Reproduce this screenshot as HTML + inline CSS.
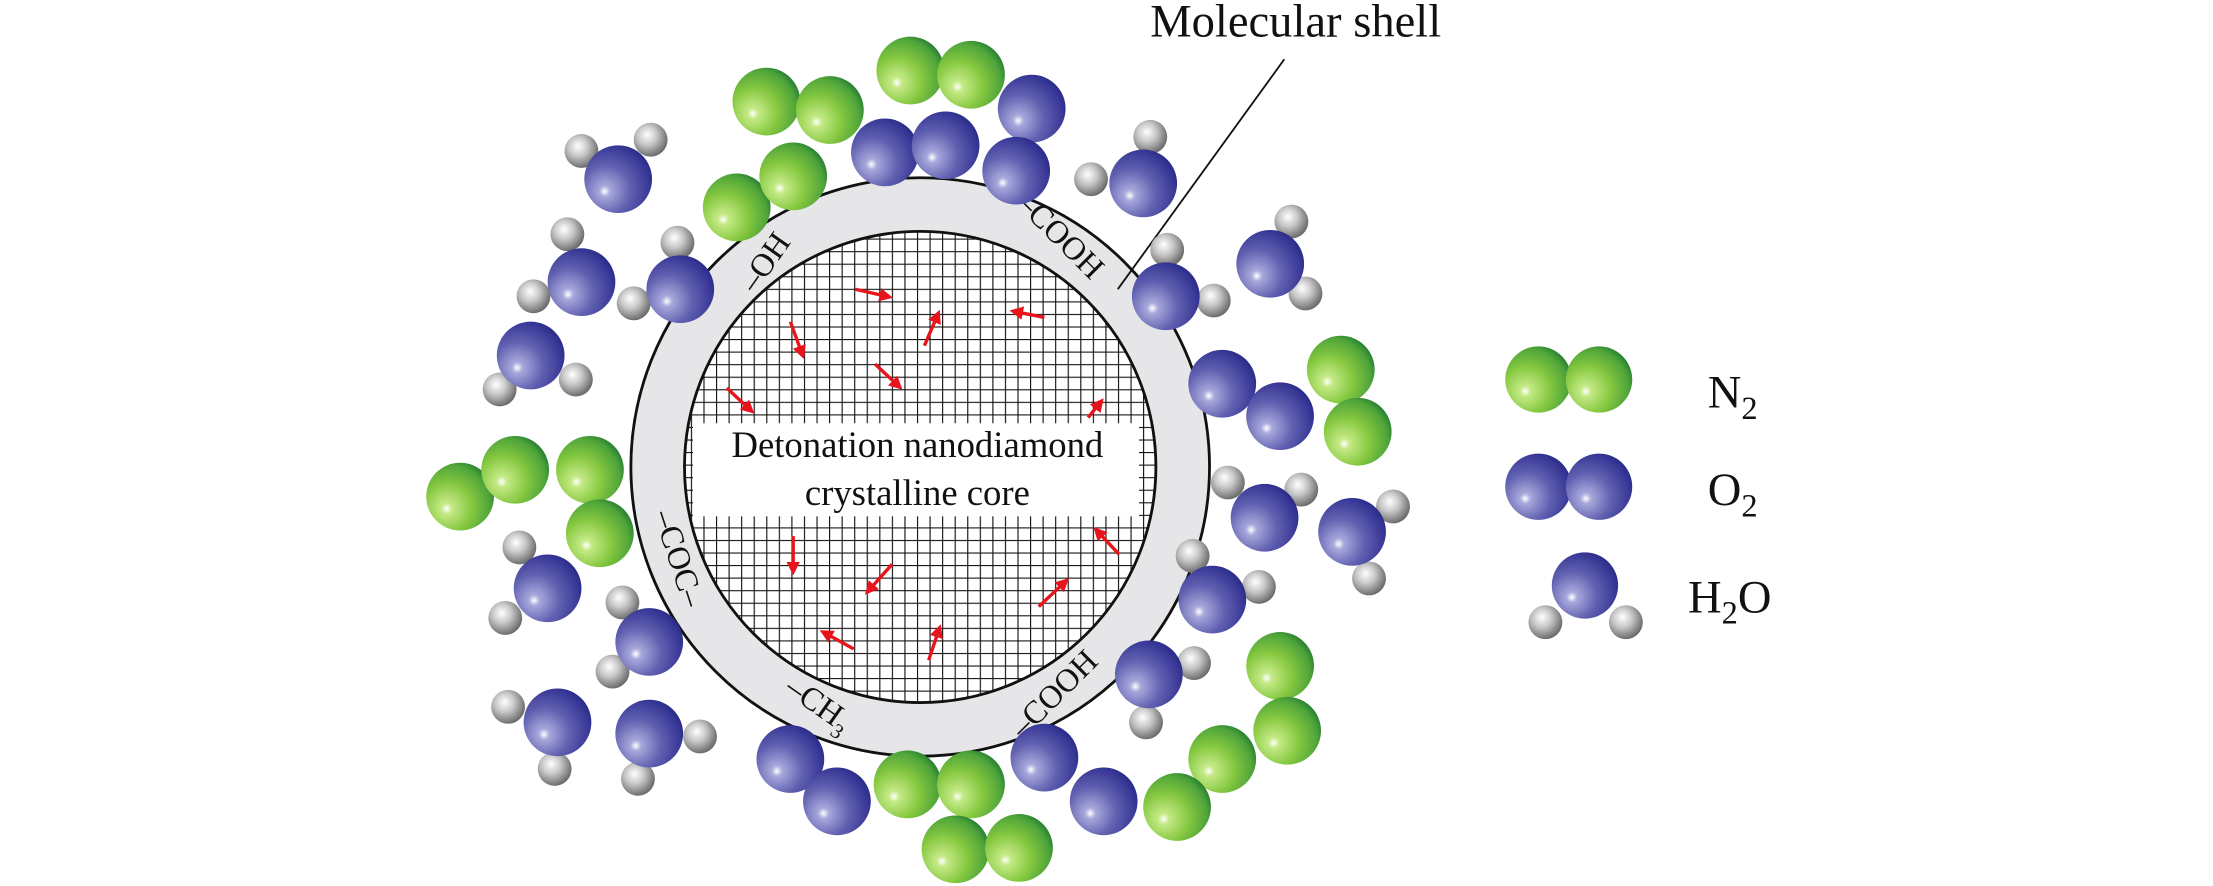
<!DOCTYPE html>
<html><head><meta charset="utf-8"><style>
html,body{margin:0;padding:0;background:#fff;overflow:hidden}
svg{display:block}
text{font-family:"Liberation Serif",serif;fill:#111}
</style></head><body>
<svg width="2213" height="886" viewBox="0 0 1568 628" preserveAspectRatio="none" xmlns="http://www.w3.org/2000/svg">
<defs>
<radialGradient id="g" cx="0.33" cy="0.64" r="0.8" fx="0.3" fy="0.68">
<stop offset="0" stop-color="#ffffff"/><stop offset="0.1" stop-color="#c4ea86"/><stop offset="0.45" stop-color="#86c840"/><stop offset="0.78" stop-color="#4ea43a"/><stop offset="1" stop-color="#0b642c"/></radialGradient>
<radialGradient id="b" cx="0.33" cy="0.64" r="0.8" fx="0.3" fy="0.68">
<stop offset="0" stop-color="#ffffff"/><stop offset="0.1" stop-color="#a8a8dc"/><stop offset="0.45" stop-color="#6262b2"/><stop offset="0.78" stop-color="#3a3a98"/><stop offset="1" stop-color="#1e1e7c"/></radialGradient>
<radialGradient id="h" cx="0.4" cy="0.4" r="0.7" fx="0.4" fy="0.35">
<stop offset="0" stop-color="#ffffff"/><stop offset="0.4" stop-color="#c8c8c8"/><stop offset="1" stop-color="#555"/></radialGradient>
<pattern id="grid" x="0" y="0" width="8.9" height="8.9" patternUnits="userSpaceOnUse">
<rect width="8.9" height="8.9" fill="#fff"/>
<path d="M0 0H8.9M0 0V8.9" stroke="#111" stroke-width="1.6" fill="none"/></pattern>
<clipPath id="cc"><circle cx="652" cy="331" r="167"/></clipPath>
<marker id="ah" markerWidth="4" markerHeight="4" refX="2" refY="2" orient="auto" markerUnits="strokeWidth"><path d="M0 0L4 2L0 4z" fill="#e8141c"/></marker>
</defs>

<circle cx="652" cy="331" r="205" fill="#e6e6e8" stroke="#111" stroke-width="2"/>
<circle cx="652" cy="331" r="167" fill="url(#grid)" stroke="#111" stroke-width="2"/>
<rect x="491" y="300" width="316" height="66" fill="#fff" clip-path="url(#cc)"/>
<text x="650" y="324" font-size="26" text-anchor="middle">Detonation nanodiamond</text>
<text x="650" y="358" font-size="26" text-anchor="middle">crystalline core</text>

<g stroke="#e8141c" stroke-width="2.4" marker-end="url(#ah)" fill="none">
<line x1="606" y1="205" x2="628" y2="210"/>
<line x1="655" y1="245" x2="664" y2="224"/>
<line x1="740" y1="225" x2="720" y2="221"/>
<line x1="560" y1="228" x2="568" y2="250"/>
<line x1="620" y1="258" x2="636" y2="273"/>
<line x1="515" y1="275" x2="531" y2="290"/>
<line x1="771" y1="296" x2="779" y2="286"/>
<line x1="562" y1="380" x2="562" y2="403"/>
<line x1="632" y1="400" x2="616" y2="418"/>
<line x1="793" y1="393" x2="778" y2="377"/>
<line x1="736" y1="430" x2="754" y2="413"/>
<line x1="605" y1="460" x2="585" y2="449"/>
<line x1="658" y1="468" x2="665" y2="447"/>
</g>

<text font-size="23" transform="translate(548,190) rotate(-55)" text-anchor="middle">–OH</text>
<text font-size="23" transform="translate(746,172) rotate(45)" text-anchor="middle">–COOH</text>
<text font-size="23" transform="translate(474,398) rotate(72)" text-anchor="middle">–COC–</text>
<text font-size="23" transform="translate(576,505) rotate(35)" text-anchor="middle">–CH<tspan font-size="15" dy="6">3</tspan></text>
<text font-size="23" transform="translate(752,497) rotate(-45)" text-anchor="middle">–COOH</text>

<line x1="910" y1="42" x2="792" y2="205" stroke="#111" stroke-width="1.3"/>
<text x="815" y="26" font-size="33">Molecular shell</text>

<g>
<circle cx="543" cy="72" r="24" fill="url(#g)"/><circle cx="588" cy="78" r="24" fill="url(#g)"/>
<circle cx="645" cy="50" r="24" fill="url(#g)"/><circle cx="688" cy="53" r="24" fill="url(#g)"/>
<circle cx="522" cy="147" r="24" fill="url(#g)"/><circle cx="562" cy="125" r="24" fill="url(#g)"/>
<circle cx="326" cy="352" r="24" fill="url(#g)"/><circle cx="365" cy="333" r="24" fill="url(#g)"/>
<circle cx="418" cy="333" r="24" fill="url(#g)"/><circle cx="425" cy="378" r="24" fill="url(#g)"/>
<circle cx="950" cy="262" r="24" fill="url(#g)"/><circle cx="962" cy="306" r="24" fill="url(#g)"/>
<circle cx="907" cy="472" r="24" fill="url(#g)"/><circle cx="912" cy="518" r="24" fill="url(#g)"/>
<circle cx="866" cy="538" r="24" fill="url(#g)"/><circle cx="834" cy="572" r="24" fill="url(#g)"/>
<circle cx="643" cy="556" r="24" fill="url(#g)"/><circle cx="688" cy="556" r="24" fill="url(#g)"/>
<circle cx="677" cy="602" r="24" fill="url(#g)"/><circle cx="722" cy="601" r="24" fill="url(#g)"/>
<circle cx="731" cy="77" r="24" fill="url(#b)"/>
<circle cx="627" cy="108" r="24" fill="url(#b)"/><circle cx="670" cy="103" r="24" fill="url(#b)"/><circle cx="720" cy="121" r="24" fill="url(#b)"/>
<circle cx="866" cy="272" r="24" fill="url(#b)"/><circle cx="907" cy="295" r="24" fill="url(#b)"/>
<circle cx="560" cy="538" r="24" fill="url(#b)"/><circle cx="593" cy="568" r="24" fill="url(#b)"/>
<circle cx="740" cy="537" r="24" fill="url(#b)"/><circle cx="782" cy="568" r="24" fill="url(#b)"/>
</g>
<g>
<circle cx="412" cy="107" r="12" fill="url(#h)"/><circle cx="461" cy="99" r="12" fill="url(#h)"/><circle cx="438" cy="127" r="24" fill="url(#b)"/>
<circle cx="815" cy="97" r="12" fill="url(#h)"/><circle cx="773" cy="127" r="12" fill="url(#h)"/><circle cx="810" cy="130" r="24" fill="url(#b)"/>
<circle cx="402" cy="166" r="12" fill="url(#h)"/><circle cx="378" cy="210" r="12" fill="url(#h)"/><circle cx="412" cy="200" r="24" fill="url(#b)"/>
<circle cx="480" cy="172" r="12" fill="url(#h)"/><circle cx="449" cy="215" r="12" fill="url(#h)"/><circle cx="482" cy="205" r="24" fill="url(#b)"/>
<circle cx="408" cy="269" r="12" fill="url(#h)"/><circle cx="354" cy="276" r="12" fill="url(#h)"/><circle cx="376" cy="252" r="24" fill="url(#b)"/>
<circle cx="915" cy="157" r="12" fill="url(#h)"/><circle cx="925" cy="208" r="12" fill="url(#h)"/><circle cx="900" cy="187" r="24" fill="url(#b)"/>
<circle cx="827" cy="177" r="12" fill="url(#h)"/><circle cx="860" cy="213" r="12" fill="url(#h)"/><circle cx="826" cy="210" r="24" fill="url(#b)"/>
<circle cx="870" cy="342" r="12" fill="url(#h)"/><circle cx="922" cy="347" r="12" fill="url(#h)"/><circle cx="896" cy="367" r="24" fill="url(#b)"/>
<circle cx="987" cy="359" r="12" fill="url(#h)"/><circle cx="970" cy="410" r="12" fill="url(#h)"/><circle cx="958" cy="377" r="24" fill="url(#b)"/>
<circle cx="368" cy="388" r="12" fill="url(#h)"/><circle cx="358" cy="438" r="12" fill="url(#h)"/><circle cx="388" cy="417" r="24" fill="url(#b)"/>
<circle cx="441" cy="427" r="12" fill="url(#h)"/><circle cx="434" cy="476" r="12" fill="url(#h)"/><circle cx="460" cy="455" r="24" fill="url(#b)"/>
<circle cx="845" cy="394" r="12" fill="url(#h)"/><circle cx="892" cy="416" r="12" fill="url(#h)"/><circle cx="859" cy="425" r="24" fill="url(#b)"/>
<circle cx="846" cy="470" r="12" fill="url(#h)"/><circle cx="812" cy="512" r="12" fill="url(#h)"/><circle cx="814" cy="478" r="24" fill="url(#b)"/>
<circle cx="360" cy="501" r="12" fill="url(#h)"/><circle cx="393" cy="545" r="12" fill="url(#h)"/><circle cx="395" cy="512" r="24" fill="url(#b)"/>
<circle cx="496" cy="522" r="12" fill="url(#h)"/><circle cx="452" cy="552" r="12" fill="url(#h)"/><circle cx="460" cy="520" r="24" fill="url(#b)"/>
</g>

<circle cx="1090" cy="269" r="23.5" fill="url(#g)"/><circle cx="1133" cy="269" r="23.5" fill="url(#g)"/>
<circle cx="1090" cy="345" r="23.5" fill="url(#b)"/><circle cx="1133" cy="345" r="23.5" fill="url(#b)"/>
<circle cx="1095" cy="441" r="12" fill="url(#h)"/><circle cx="1152" cy="441" r="12" fill="url(#h)"/><circle cx="1123" cy="415" r="23.5" fill="url(#b)"/>
<text x="1210" y="289" font-size="33">N<tspan font-size="23" dy="8">2</tspan></text>
<text x="1210" y="358" font-size="33">O<tspan font-size="23" dy="8">2</tspan></text>
<text x="1196" y="434" font-size="33">H<tspan font-size="23" dy="8">2</tspan><tspan dy="-8">O</tspan></text>
</svg>
</body></html>
